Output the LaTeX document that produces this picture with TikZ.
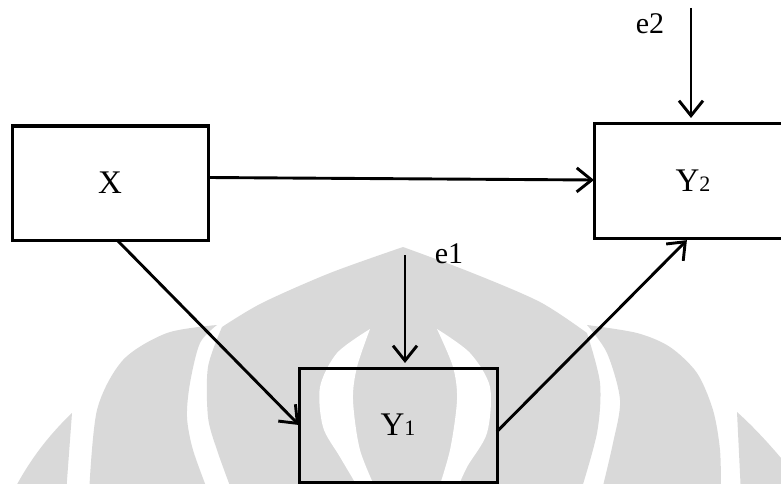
\documentclass[tikz,border=0pt]{standalone}
\usepackage{fontspec}
\setmainfont{Liberation Serif}
\usetikzlibrary{arrows.meta}
\colorlet{wmGrey}{black!15}
\newcommand{\lowidx}[1]{{\fontsize{22}{25}\selectfont #1}}

\begin{document}
\begin{tikzpicture}[x=1pt, y=-1pt,
  varbox/.style={draw, line width=3pt, inner sep=0pt, outer sep=0pt,
                 minimum width=196pt, minimum height=114pt, font=\fontsize{33}{38}\selectfont},
  lbl/.style={inner sep=0pt, font=\fontsize{30}{35}\selectfont},
  arr/.style={-{Straight Barb[length=15pt, width=24pt]}, line width=2.9pt},
  wm/.style={fill=wmGrey}]
  \useasboundingbox (0,0) rectangle (781,484);
  \clip (0,0) rectangle (781,484);
  % faint logo behind the diagram
  \fill[wm] (72,413) .. controls (52,432) and (30,458) .. (12,494) -- (66,494) -- cycle;
  \fill[wm] plot[smooth] coordinates {(217,325) (167,333) (123,360) (97,410) (89,494)}
    -- plot[smooth] coordinates {(209,494) (193,450) (187,417) (190,383) (200,343) (217,325)} -- cycle;
  \fill[wm] plot[smooth] coordinates {(233,494) (217,450) (208,417) (208,367) (222,327)}
    -- plot[smooth] coordinates {(222,327) (262,303) (330,273) (403,247)}
    -- plot[smooth] coordinates {(403,247) (470,272) (540,302) (587,333)}
    -- plot[smooth] coordinates {(587,333) (600,383) (597,433) (580,494)} -- cycle;
  \fill[wm] plot[smooth] coordinates {(587,325) (637,333) (670,347) (697,373) (713,410) (720,450) (721,494)}
    -- plot[smooth] coordinates {(601,494) (613,443) (620,400) (607,353) (587,325)} -- cycle;
  \fill[wm] (737,412) .. controls (755,428) and (775,450) .. (795,475) -- (795,494) -- (741,494) -- cycle;
  \fill[white] plot[smooth] coordinates {(370,329) (337,353) (320,387) (323,427) (340,457) (362,494)}
    -- plot[smooth] coordinates {(378,494) (360,450) (353,400) (357,367) (370,329)} -- cycle;
  \fill[white] plot[smooth] coordinates {(437,329) (470,353) (490,387) (487,433) (467,467) (455,494)}
    -- plot[smooth] coordinates {(437,494) (450,450) (457,400) (453,367) (437,329)} -- cycle;
  % variables
  \node[varbox] (x) at (110,183) {X};
  \node[varbox, minimum width=198pt] (y2) at (693,181) {Y\lowidx{2}};
  \node[varbox, minimum width=198pt] (y1) at (398,425) {Y\lowidx{1}};
  % error terms
  \coordinate (e2top) at (691,8);
  \coordinate (e1top) at (405,255);
  \node[lbl] (e2) at (650,24) {e2};
  \node[lbl] (e1) at (449,254) {e1};
  % paths
  \draw[arr] ([yshift=5.5pt]x.east) -- ([yshift=1pt]y2.west);
  \draw[arr] ([xshift=7pt]x.south) -- (y1.west);
  \draw[arr, shorten >=3pt] ([yshift=-6.5pt]y1.east) -- ([xshift=-4pt]y2.south);
  \draw[arr, shorten >=6pt] (e2top) -- (e2top |- y2.north);
  \draw[arr, shorten >=5pt] (e1top) -- (e1top |- y1.north);
\end{tikzpicture}
\end{document}
